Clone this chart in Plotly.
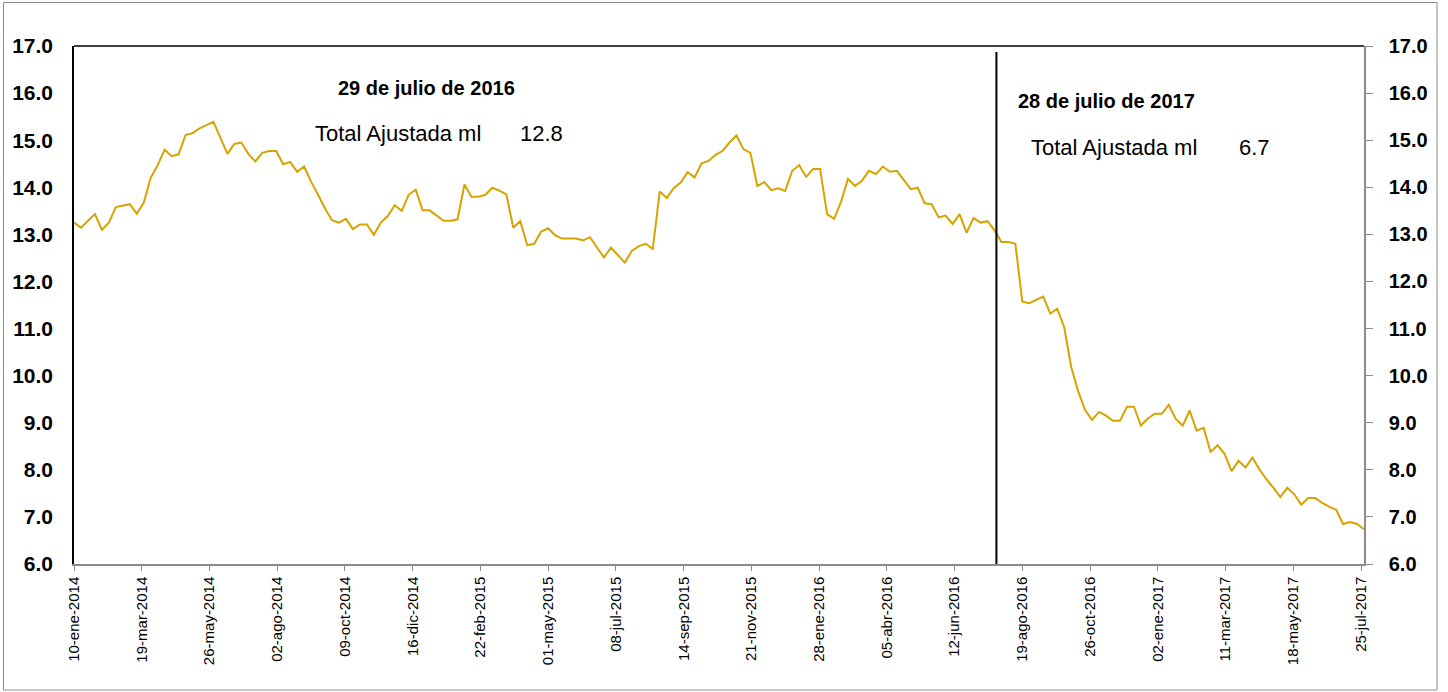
import pandas as pd
import plotly.graph_objects as go

# ---------------- data ----------------
start_date = "2014-01-10"
values = [
    13.25, 13.14, 13.29, 13.43, 13.10, 13.25, 13.58, 13.61, 13.64, 13.44,
    13.67, 14.20, 14.47, 14.80, 14.66, 14.70, 15.11, 15.15, 15.25, 15.32,
    15.39, 15.05, 14.71, 14.92, 14.95, 14.71, 14.55, 14.73, 14.77, 14.77,
    14.49, 14.54, 14.33, 14.44, 14.12, 13.84, 13.55, 13.30, 13.25, 13.33,
    13.11, 13.21, 13.21, 12.99, 13.25, 13.39, 13.62, 13.50, 13.84, 13.95,
    13.51, 13.51, 13.40, 13.29, 13.29, 13.32, 14.06, 13.80, 13.80, 13.84,
    13.99, 13.93, 13.85, 13.14, 13.28, 12.77, 12.80, 13.06, 13.13, 12.98,
    12.91, 12.91, 12.91, 12.87, 12.94, 12.72, 12.51, 12.72, 12.56, 12.40,
    12.65, 12.75, 12.80, 12.69, 13.91, 13.77, 13.98, 14.10, 14.32, 14.21,
    14.51, 14.56, 14.69, 14.77, 14.95, 15.10, 14.81, 14.73, 14.03, 14.11,
    13.94, 13.98, 13.92, 14.35, 14.47, 14.22, 14.39, 14.39, 13.43, 13.33,
    13.69, 14.18, 14.03, 14.14, 14.35, 14.28, 14.44, 14.33, 14.35, 14.15,
    13.96, 13.99, 13.66, 13.64, 13.36, 13.40, 13.22, 13.43, 13.03, 13.35,
    13.25, 13.28, 13.09, 12.84, 12.84, 12.80, 11.57, 11.54, 11.61, 11.68,
    11.32, 11.42, 11.03, 10.19, 9.67, 9.27, 9.06, 9.23, 9.15, 9.04,
    9.04, 9.34, 9.34, 8.94, 9.09, 9.19, 9.19, 9.38, 9.08, 8.94,
    9.26, 8.83, 8.89, 8.38, 8.52, 8.34, 7.97, 8.19, 8.05, 8.26,
    8.01, 7.80, 7.62, 7.42, 7.62, 7.48, 7.26, 7.40, 7.40, 7.30,
    7.22, 7.15, 6.85, 6.89, 6.85, 6.74,
]
dates = pd.date_range(start=start_date, periods=len(values), freq="7D")

tick_dates = [
    "2014-01-10", "2014-03-19", "2014-05-26", "2014-08-02", "2014-10-09",
    "2014-12-16", "2015-02-22", "2015-05-01", "2015-07-08", "2015-09-14",
    "2015-11-21", "2016-01-28", "2016-04-05", "2016-06-12", "2016-08-19",
    "2016-10-26", "2017-01-02", "2017-03-11", "2017-05-18", "2017-07-25",
]
tick_labels = [
    "10-ene-2014", "19-mar-2014", "26-may-2014", "02-ago-2014", "09-oct-2014",
    "16-dic-2014", "22-feb-2015", "01-may-2015", "08-jul-2015", "14-sep-2015",
    "21-nov-2015", "28-ene-2016", "05-abr-2016", "12-jun-2016", "19-ago-2016",
    "26-oct-2016", "02-ene-2017", "11-mar-2017", "18-may-2017", "25-jul-2017",
]
y_ticks = [6, 7, 8, 9, 10, 11, 12, 13, 14, 15, 16, 17]
marker_date = "2016-07-24"

label_2016 = "29 de julio de 2016"
label_2017 = "28 de julio de 2017"
series_name = "Total Ajustada ml"
value_2016 = "12.8"
value_2017 = "6.7"

FONT = "Liberation Sans, Arial, sans-serif"
LINE_COLOR = "#D6A300"
GRAY = "#8C8C8C"

fig = go.Figure()
fig.add_trace(go.Scatter(x=dates, y=values, mode="lines",
                         line=dict(color=LINE_COLOR, width=2),
                         name=series_name, showlegend=False))
fig.add_trace(go.Scatter(x=dates, y=values, mode="lines", yaxis="y2",
                         line=dict(color=LINE_COLOR, width=0), opacity=0,
                         hoverinfo="skip", showlegend=False))

W, H = 1448, 692
L, R, T, B = 74, 84, 46, 128
pw, ph = W - L - R, H - T - B


def px(xp):
    return (xp - L) / pw


def py(yp):
    return (H - B - yp) / ph


fig.update_layout(
    width=W, height=H,
    margin=dict(l=L, r=R, t=T, b=B, pad=0),
    paper_bgcolor="white", plot_bgcolor="white",
    font=dict(family=FONT, color="black"),
    xaxis=dict(
        type="date", range=[start_date, "2017-07-28"],
        tickmode="array", tickvals=tick_dates, ticktext=tick_labels,
        tickangle=-90, tickfont=dict(size=15, family=FONT, color="black"),
        ticks="outside", ticklen=5, tickcolor=GRAY, tickwidth=1,
        showline=True, linecolor=GRAY, linewidth=1.5,
        showgrid=False, zeroline=False,
    ),
    yaxis=dict(
        range=[6, 17], tickmode="array", tickvals=y_ticks,
        tickformat=".1f",
        tickfont=dict(size=21, family=FONT, color="black", weight="bold"),
        ticks="outside", ticklen=15, tickcolor="rgba(0,0,0,0)",
        showline=True, linecolor="black", linewidth=1.5,
        showgrid=False, zeroline=False,
    ),
    yaxis2=dict(
        range=[6, 17], overlaying="y", side="right",
        tickmode="array", tickvals=y_ticks, tickformat=".1f",
        tickfont=dict(size=20, family=FONT, color="black", weight="bold"),
        ticks="outside", ticklen=7, tickcolor=GRAY, tickwidth=1,
        ticklabelstandoff=12,
        showline=True, linecolor=GRAY, linewidth=1.5,
        showgrid=False, zeroline=False,
    ),
    shapes=[
        # top frame line
        dict(type="line", xref="paper", yref="paper", x0=0, x1=1, y0=1, y1=1,
             line=dict(color="black", width=1.5)),
        # vertical marker line
        dict(type="line", xref="x", yref="paper", x0=marker_date, x1=marker_date,
             y0=0, y1=py(52), line=dict(color="black", width=2)),
        # outer chart border
        dict(type="rect", xref="paper", yref="paper",
             x0=px(3.5), x1=px(1437), y0=py(690), y1=py(2.5),
             line=dict(color=GRAY, width=1)),
    ],
    annotations=[
        dict(text=f"<b>{label_2016}</b>", xref="paper", yref="paper",
             x=px(336), y=py(88), xanchor="left", yanchor="middle",
             showarrow=False, font=dict(size=20, family=FONT)),
        dict(text=series_name, xref="paper", yref="paper",
             x=px(313), y=py(133), xanchor="left", yanchor="middle",
             showarrow=False, font=dict(size=22, family=FONT)),
        dict(text=value_2016, xref="paper", yref="paper",
             x=px(518), y=py(133), xanchor="left", yanchor="middle",
             showarrow=False, font=dict(size=22, family=FONT)),
        dict(text=f"<b>{label_2017}</b>", xref="paper", yref="paper",
             x=px(1016), y=py(101), xanchor="left", yanchor="middle",
             showarrow=False, font=dict(size=20, family=FONT)),
        dict(text=series_name, xref="paper", yref="paper",
             x=px(1029), y=py(147), xanchor="left", yanchor="middle",
             showarrow=False, font=dict(size=22, family=FONT)),
        dict(text=value_2017, xref="paper", yref="paper",
             x=px(1237), y=py(147), xanchor="left", yanchor="middle",
             showarrow=False, font=dict(size=22, family=FONT)),
    ],
)

fig.write_html("out.html",
               config={"displayModeBar": False},
               post_script="document.body.style.margin='0';"
                           "document.body.style.overflow='hidden';")
